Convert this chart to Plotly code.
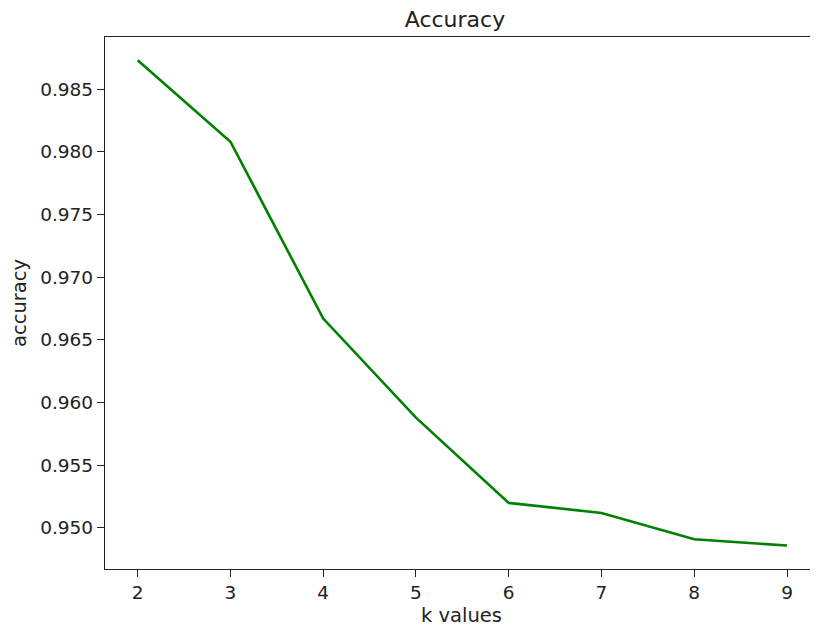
import plotly.graph_objects as go

k_values = [2, 3, 4, 5, 6, 7, 8, 9]
accuracy = [0.9873, 0.9808, 0.9667, 0.9588, 0.9520, 0.9512, 0.9491, 0.9486]
y_ticks = [0.950, 0.955, 0.960, 0.965, 0.970, 0.975, 0.980, 0.985]

font_family = "DejaVu Sans"

W, H = 810, 628  # page body has an 8px margin

fig = go.Figure()
fig.add_trace(go.Scatter(
    x=k_values, y=accuracy, mode="lines",
    line=dict(color="#008000", width=2.6),
    showlegend=False,
))

fig.update_layout(
    width=W, height=H,
    margin=dict(l=97, r=0, t=29, b=67, autoexpand=False),
    paper_bgcolor="white", plot_bgcolor="white",
    font=dict(family=font_family, color="#222222", size=18),
    title=dict(text="Accuracy", x=447 / W, xanchor="center",
               y=1 - 11 / H, yanchor="middle",
               font=dict(size=22, family=font_family, color="#222222")),
)

fig.update_xaxes(
    range=[1.6475, 9.334],
    tickmode="array", tickvals=k_values, ticktext=[str(k) for k in k_values],
    showgrid=False, zeroline=False,
    showline=True, linecolor="#222222", linewidth=1.3, mirror=True,
    ticks="outside", ticklen=7, tickwidth=1.3, tickcolor="#222222",
    tickfont=dict(size=18.5),
    title=dict(text="k values", font=dict(size=19.5), standoff=6),
)
fig.update_yaxes(
    range=[0.94673, 0.98915],
    tickmode="array", tickvals=y_ticks, ticktext=[f"{v:.3f}" for v in y_ticks],
    showgrid=False, zeroline=False,
    showline=True, linecolor="#222222", linewidth=1.3,
    ticks="outside", ticklen=7, tickwidth=1.3, tickcolor="#222222",
    tickfont=dict(size=18.5),
    title=dict(text="accuracy", font=dict(size=19.5), standoff=10),
)

fig.write_html("out.html")
